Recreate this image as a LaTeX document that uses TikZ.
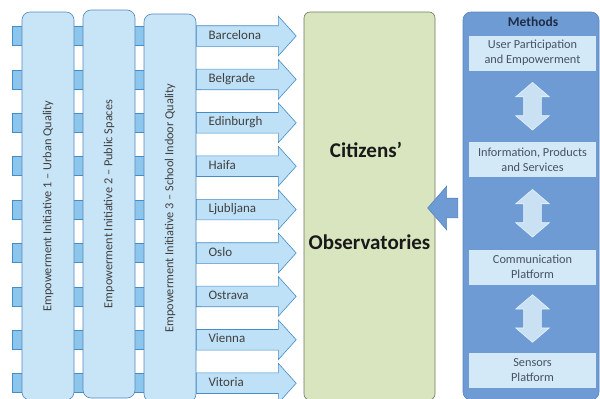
\documentclass[tikz,border=0pt]{standalone}
\usepackage{fontspec}
\setmainfont{Carlito}
\usetikzlibrary{shapes.arrows,positioning,calc}

\definecolor{initfill}{RGB}{200,229,247}
\definecolor{initline}{RGB}{84,135,185}
\definecolor{tabfill}{RGB}{140,198,236}
\definecolor{cityfill}{RGB}{190,225,247}
\definecolor{cityline}{RGB}{70,140,200}
\definecolor{obsfill}{RGB}{216,229,190}
\definecolor{obsline}{RGB}{110,120,95}
\definecolor{methfill}{RGB}{110,155,212}
\definecolor{methline}{RGB}{88,133,192}
\definecolor{stepfill}{RGB}{212,233,248}
\definecolor{txtgray}{RGB}{64,64,64}
\definecolor{methtxt}{RGB}{30,45,70}
\definecolor{steptxt}{RGB}{70,82,98}

\begin{document}
\begin{tikzpicture}[x=1pt,y=-1pt]
  \tikzstyle{tab}=[draw=cityline,fill=tabfill,line width=0.6pt]
  \tikzstyle{initiative}=[rectangle,rounded corners=8pt,draw=initline,fill=initfill,line width=0.6pt,
    minimum width=388pt,minimum height=52pt,rotate=90,text=txtgray,font=\fontsize{12.3}{14}\selectfont]
  \tikzstyle{city}=[single arrow,draw=cityline,fill=cityfill,line width=0.6pt,
    single arrow head extend=9.5pt,single arrow tip angle=96,
    text width=66pt,align=left,inner xsep=12pt,inner ysep=5pt,text height=8pt,text depth=2pt,
    text=txtgray,font=\fontsize{13}{15}\selectfont]
  \tikzstyle{observatory}=[rectangle,rounded corners=6pt,draw=obsline,fill=obsfill,line width=0.6pt,
    minimum width=131pt,minimum height=388pt]
  \tikzstyle{obstext}=[text=black!90,font=\fontsize{21}{24}\selectfont\bfseries]
  \tikzstyle{methods}=[rectangle,rounded corners=8pt,draw=methline,fill=methfill,line width=0.6pt,
    minimum width=136pt,minimum height=388pt]
  \tikzstyle{methtitle}=[text=methtxt,font=\fontsize{13.5}{15}\selectfont\bfseries]
  \tikzstyle{stepbox}=[rectangle,fill=stepfill,minimum width=127pt,minimum height=35pt,
    align=center,text=steptxt,font=\fontsize{12.3}{15}\selectfont]
  \tikzstyle{dblarrow}=[double arrow,rotate=90,draw=stepfill!60!white,fill=stepfill!90!methfill,line width=0.6pt,
    double arrow head extend=8pt,double arrow tip angle=99,inner xsep=16pt,inner ysep=8.5pt]
  \tikzstyle{feed}=[single arrow,rotate=180,draw=methline,fill=methfill,line width=0.6pt,
    single arrow head extend=12pt,single arrow tip angle=98,inner xsep=10.5pt,inner ysep=9.5pt]

  \useasboundingbox (0,0) rectangle (600,399);

  % strips behind the initiatives
  \foreach \city [count=\i] in {Barcelona,Belgrade,Edinburgh,Haifa,Ljubljana,Oslo,Ostrava,Vienna,Vitoria}
    \draw[tab] (12,{36+43.4*(\i-1)-9.5}) rectangle (200,{36+43.4*(\i-1)+9.5});

  \node [initiative] (urban)  at (48,206)  {Empowerment Initiative 1 -- Urban Quality};
  \node [initiative] (public) at (109,204) {Empowerment Initiative 2 -- Public Spaces};
  \node [initiative] (school) at (170,208) {Empowerment Initiative 3 -- School Indoor Quality};

  % cities
  \foreach \city [count=\i] in {Barcelona,Belgrade,Edinburgh,Haifa,Ljubljana,Oslo,Ostrava,Vienna,Vitoria}
    \node [city,anchor=tail] (city\i) at (196,{36+43.4*(\i-1)}) {\city};

  \node [observatory] (obs) at (369.5,206) {};
  \node [obstext] (citizens) at (366,150) {Citizens’};
  \node [obstext] (observ)   at (369.5,242) {Observatories};

  \node [feed,anchor=tip] (feed) at ([xshift=-8pt,yshift=-2pt]obs.east) {};

  % methods
  \node [methods] (meth) at (531,206) {};
  \node [methtitle] (methtitle) at (533,22) {Methods};
  \node [stepbox] (user)    at (532.5,53)    {User Participation\\and Empowerment};
  \node [stepbox] (info)    at (532.5,159.5) {Information, Products\\and Services};
  \node [stepbox] (comm)    at (532.5,267)   {Communication\\Platform};
  \node [stepbox] (sensors) at (532.5,370)   {Sensors\\Platform};

  \node [dblarrow] (ui) at ($(user.south)!.5!(info.north)$) {};
  \node [dblarrow] (ic) at ($(info.south)!.5!(comm.north)$) {};
  \node [dblarrow] (cs) at ($(comm.south)!.5!(sensors.north)$) {}; %P1
\end{tikzpicture}
\end{document}
